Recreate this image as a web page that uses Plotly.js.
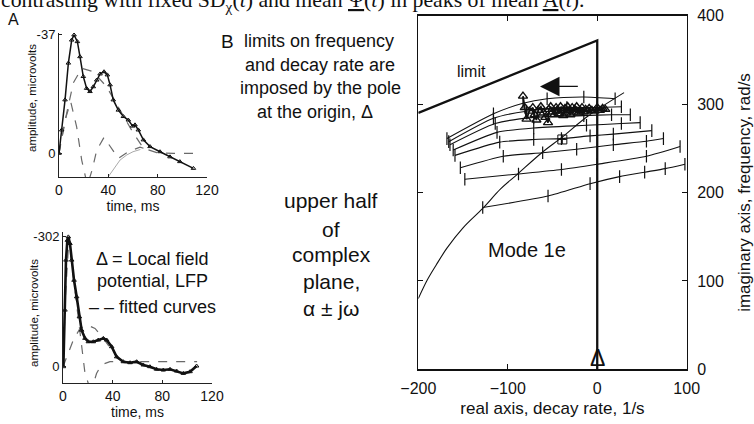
<!DOCTYPE html>
<html><head><meta charset="utf-8">
<script src="https://cdn.plot.ly/plotly-3.0.1.min.js"></script>
<style>html,body{margin:0;padding:0;background:#fff}</style>
</head><body><div id="chart" style="width:754px;height:424px"></div>
<script>
// ---------- Panel A (top): averaged response, microvolts vs time (ms)
const topTime   = [0,2.2,4.9,7.6,10.3,12.2,14.9,17,19.7,22.4,25.1,27.8,30.6,33.3,36.5,39.2,41.4,44,48.1,52.2,56.2,59.7,61.6,64.3,68.4,73.8,81.9,90,98,109];
const topAmp    = [0,-7.3,-16.7,-28.2,-35.4,-37,-34.9,-30.2,-24,-20.3,-19.3,-20.8,-22.9,-24.8,-25.5,-24.5,-21.4,-16.7,-13.5,-11.5,-10.4,-8.5,-8.9,-7.3,-4.2,-2.1,-0.5,1.1,2.6,4.7];
const topFit1T  = [0,6.2,11.6,18.4,27.8,38.6,49.5,60.3,68.4,79.2,92.8,109];
const topFit1V  = [0,-12.5,-22,-26.6,-25.5,-20.8,-13.5,-6.3,-1.6,-0.2,0,0];
const topFit2T  = [0,4.9,9.5,14.3,18.4,23,27,30.6,36.5,41.4,48.1,56.2,65.7,73.8];
const topFit2V  = [0,-10.4,-16.1,-8.3,2.1,10,5,-1,-5,-2.1,1.6,-0.5,-1.9,-1];
const topFit3T  = [40,45,49.5,55,60,66];
const topFit3V  = [7.3,4.5,2.1,0.5,-0.5,-1.2];

// ---------- Panel A (bottom)
const botTime   = [0.3,1.6,2.4,3.5,4.3,5.6,7,8.9,11,13.2,15,17.7,20.4,24.4,28.4,32.5,35.2,39.2,43.2,48.6,54,59.3,64.7,70,75.4,80.8,86.2,91.5,96.9,102.3,107.6];
const botAmp    = [0,-131.7,-247.9,-294,-302,-286.6,-248,-201,-162.6,-116,-85,-66,-58,-58,-62,-66,-62,-46.5,-23,-11.6,-9.3,-11.6,-4,0,6,7.7,6,10,15.5,11.6,-1.6];
const botFit1T  = [0,2.1,4.3,6.4,8.9,12.3,15,17.7,21.4,25,27,30,32.5,37.8,46,108];
const botFit1V  = [0,-170,-275,-255,-194,-108,-39,15,48,35,16,0,-6,-11.6,-11.6,-11.6];
const botFit2T  = [0,4.3,8.3,13.7,19.6,25.8,32.5,39.2,44.5,51.3];
const botFit2V  = [0,-31,-62,-89,-97,-89,-66,-39,-19.4,-11.6];

// ---------- Panel B: complex plane (decay rate 1/s, frequency rad/s)
const limitX = [-200, 0, 0];
const limitY = [290, 372, 0];
const rootX  = [-200,-190,-180,-168,-150,-128,-108,-90,-62,-40,-11,30];
const rootY  = [80,101,118,137,160,182,204,220,245,262,286,313];
const fam1X = [-128,-55,-8,25,53,76,98];        const fam1Y = [183,196,210,218,223,227,232];
const fam2X = [-148,-88,-40,0,55,92.6];          const fam2Y = [215,221,226,232,241,252];
const fam3X = [-153,-105,-61,-23,18,55,74];      const fam3Y = [228,241,245,249,254,258,261];
const fam4X = [-159,-109,-71,-40,-8,18,61];      const fam4Y = [242,257,260,261,264,266,270];
const fam5X = [-161,-112,-71,-12,27,48];         const fam5Y = [248,268,273,276,278,279];
const fam6X = [-164.6,-114,-71,-15,16,37];       const fam6Y = [254,278,285,287,288,288];
const fam7X = [-166,-116,-79,-34,0,27];          const fam7Y = [257.5,284,292,296,296,297];
const fam8X = [-168,-116,-83,-56,-15,20];        const fam8Y = [261,289,301,306,308,306];
const lfpX = [-83,-81,-79,-76,-72,-70,-68,-66,-63,-60,-58,-55,-54,-52,-50,-48,-46,-45,-43,-41,-40,-38,-36,-35,-33,-31,-30,-28,-26,-25,-23,-21,-19,-17,-15,-13,-11,-9,-6,-3,0,3,6,9];
const lfpY = [309,296,283,292,296,288,282,293,297,290,285,279,294,297,291,288,296,293,289,297,292,287,295,290,297,293,288,296,291,294,297,290,293,296,291,294,292,295,293,292,296,293,295,294];
const squareX = [-39];  const squareY = [260];
const xTicksA = [0,40,80,120];
const xTicksB = [-200,-100,0,100];
const yTicksB = [0,100,200,300,400];

const W = 754, H = 424;
const PX = p => p / W, PY = p => 1 - p / H;
const SANS = 'Liberation Sans, Arial, sans-serif';
const INK = '#111';
const DASH = '#6a6a6a';

const traces = [];
// top A
traces.push({x: topFit1T, y: topFit1V, xaxis:'x', yaxis:'y', mode:'lines', line:{color:DASH, width:1.2, dash:'dash'}});
traces.push({x: topFit2T, y: topFit2V, xaxis:'x', yaxis:'y', mode:'lines', line:{color:DASH, width:1.2, dash:'dash'}});
traces.push({x: topFit3T, y: topFit3V, xaxis:'x', yaxis:'y', mode:'lines', line:{color:'#aaa', width:1}});
traces.push({x: topTime, y: topAmp, xaxis:'x', yaxis:'y', mode:'lines+markers', line:{color:INK, width:1.5},
  marker:{symbol:'triangle-up-open', size:4, color:INK, line:{width:1}}});
// bottom A
traces.push({x: botFit1T, y: botFit1V, xaxis:'x2', yaxis:'y2', mode:'lines', line:{color:DASH, width:1.2, dash:'dash'}});
traces.push({x: botFit2T, y: botFit2V, xaxis:'x2', yaxis:'y2', mode:'lines', line:{color:DASH, width:1.2, dash:'dash'}});
traces.push({x: botTime, y: botAmp, xaxis:'x2', yaxis:'y2', mode:'lines+markers', line:{color:INK, width:2.6},
  marker:{symbol:'triangle-up-open', size:4, color:INK, line:{width:1}}});
// B
traces.push({x: limitX, y: limitY, xaxis:'x3', yaxis:'y3', mode:'lines', line:{color:INK, width:2.3}});
traces.push({x: rootX, y: rootY, xaxis:'x3', yaxis:'y3', mode:'lines', line:{color:INK, width:1.1, shape:'spline'}});
[[fam1X,fam1Y],[fam2X,fam2Y],[fam3X,fam3Y],[fam4X,fam4Y],[fam5X,fam5Y],[fam6X,fam6Y],[fam7X,fam7Y],[fam8X,fam8Y]].forEach(([fx,fy]) => {
  traces.push({x: fx, y: fy, xaxis:'x3', yaxis:'y3', mode:'lines+markers',
    line:{color:INK, width:1.1, shape:'spline', smoothing:0.6},
    marker:{symbol:'line-ns-open', size:9, color:INK, line:{width:1.2, color:INK}}});
});
traces.push({x: lfpX, y: lfpY, xaxis:'x3', yaxis:'y3', mode:'lines+markers', line:{color:INK, width:1.8},
  marker:{symbol:'triangle-up-open', size:8, color:INK, line:{width:1.4, color:INK}}});
traces.push({x: squareX, y: squareY, xaxis:'x3', yaxis:'y3', mode:'markers',
  marker:{symbol:'square-cross-open', size:9, color:INK, line:{width:1, color:INK}}});

const axA = {showgrid:false, zeroline:false, showline:true, linecolor:'#222', linewidth:1, ticks:'inside', ticklen:3, tickcolor:'#222'};
const layout = {
  width: W, height: H, margin:{l:0, r:0, t:0, b:0}, paper_bgcolor:'#fff', plot_bgcolor:'rgba(0,0,0,0)',
  showlegend:false, font:{family:SANS, color:INK},
  xaxis: Object.assign({}, axA, {domain:[PX(59), PX(207)], range:[0,120], anchor:'y', tickvals:xTicksA, tickfont:{size:14},
    title:{text:'time, ms', font:{size:14}, standoff:3}}),
  yaxis: Object.assign({}, axA, {domain:[PY(177), PY(33)], range:[7.4,-37.6], anchor:'x', tickvals:[-37,0], ticktext:['-37','0'], tickfont:{size:13}}),
  xaxis2: Object.assign({}, axA, {domain:[PX(63), PX(212)], range:[0,120], anchor:'y2', tickvals:xTicksA, tickfont:{size:14},
    title:{text:'time, ms', font:{size:14}, standoff:3}}),
  yaxis2: Object.assign({}, axA, {domain:[PY(383.3), PY(231.7)], range:[38.6,-314], anchor:'x2', tickvals:[-302,0], ticktext:['-302','0'], tickfont:{size:13}}),
  xaxis3: {domain:[PX(418.3), PX(686.7)], range:[-200,100], anchor:'y3', tickvals:xTicksB, showgrid:false, zeroline:false,
    showline:true, mirror:'ticks', linecolor:INK, linewidth:1.3, ticks:'inside', ticklen:5, tickcolor:INK, tickfont:{size:16},
    ticklabelstandoff:4, title:{text:'real axis, decay rate, 1/s', font:{size:17}, standoff:6}},
  yaxis3: {domain:[PY(369.3), PY(15.7)], range:[0,400], anchor:'x3', side:'right', tickvals:yTicksB, showgrid:false, zeroline:false,
    showline:true, mirror:'ticks', linecolor:INK, linewidth:1.3, ticks:'inside', ticklen:5, tickcolor:INK, tickfont:{size:16},
    ticklabelstandoff:6, title:{text:'imaginary axis, frequency, rad/s', font:{size:17}, standoff:18}},
  annotations: []
};
const A = layout.annotations;
function txt(t, px, py, size, extra) {
  A.push(Object.assign({text:t, x:PX(px), y:PY(py), xref:'paper', yref:'paper', xanchor:'center', yanchor:'middle',
    showarrow:false, font:{size:size, family:SANS, color:INK}}, extra || {}));
}
// clipped page text at top
txt('contrasting with fixed SD<sub>χ</sub>(<i>t</i>) and mean <u>Ψ</u>(<i>t</i>) in peaks of mean <u>A</u>(<i>t</i>).', -1, 1.5, 21.8,
  {xanchor:'left', font:{size:21.8, family:'Liberation Serif, Times New Roman, serif', color:INK}});
txt('A', 13, 20, 16);
txt('B', 227, 41.5, 19);
txt('limits on frequency', 319, 41.5, 18);
txt('and decay rate are', 320, 64.5, 18);
txt('imposed by the pole', 320, 87.5, 18);
txt('at the origin, Δ', 315, 111.5, 18);
txt('upper half', 331, 200, 21);
txt('of', 331, 229, 21);
txt('complex', 331, 255, 21);
txt('plane,', 331, 281, 21);
txt('α ± jω', 331, 308, 21);
txt('limit', 471.7, 71.7, 16);
txt('Mode 1e', 526.7, 250, 20);
txt('Δ = Local field', 152.5, 259, 18);
txt('potential, LFP', 152.5, 281, 18);
txt('– – fitted curves', 152.5, 307, 18);
txt('amplitude, microvolts', 32, 98, 11.5, {textangle:-90});
txt('amplitude, microvolts', 34, 313, 11.5, {textangle:-90});
// pole at origin
A.push({text:'Δ', x:0, y:0, xref:'x3', yref:'y3', xanchor:'center', yanchor:'bottom', yshift:-4, showarrow:false,
  font:{size:23, family:SANS, color:INK}});
// direction arrow
A.push({text:'', x:-64, y:320, ax:-20, ay:320, xref:'x3', yref:'y3', axref:'x3', ayref:'y3', showarrow:true,
  arrowhead:2, arrowsize:3, arrowwidth:1.3, arrowcolor:INK, standoff:0, startstandoff:0});

Plotly.newPlot('chart', traces, layout, {staticPlot:true, displayModeBar:false});
</script></body></html>
